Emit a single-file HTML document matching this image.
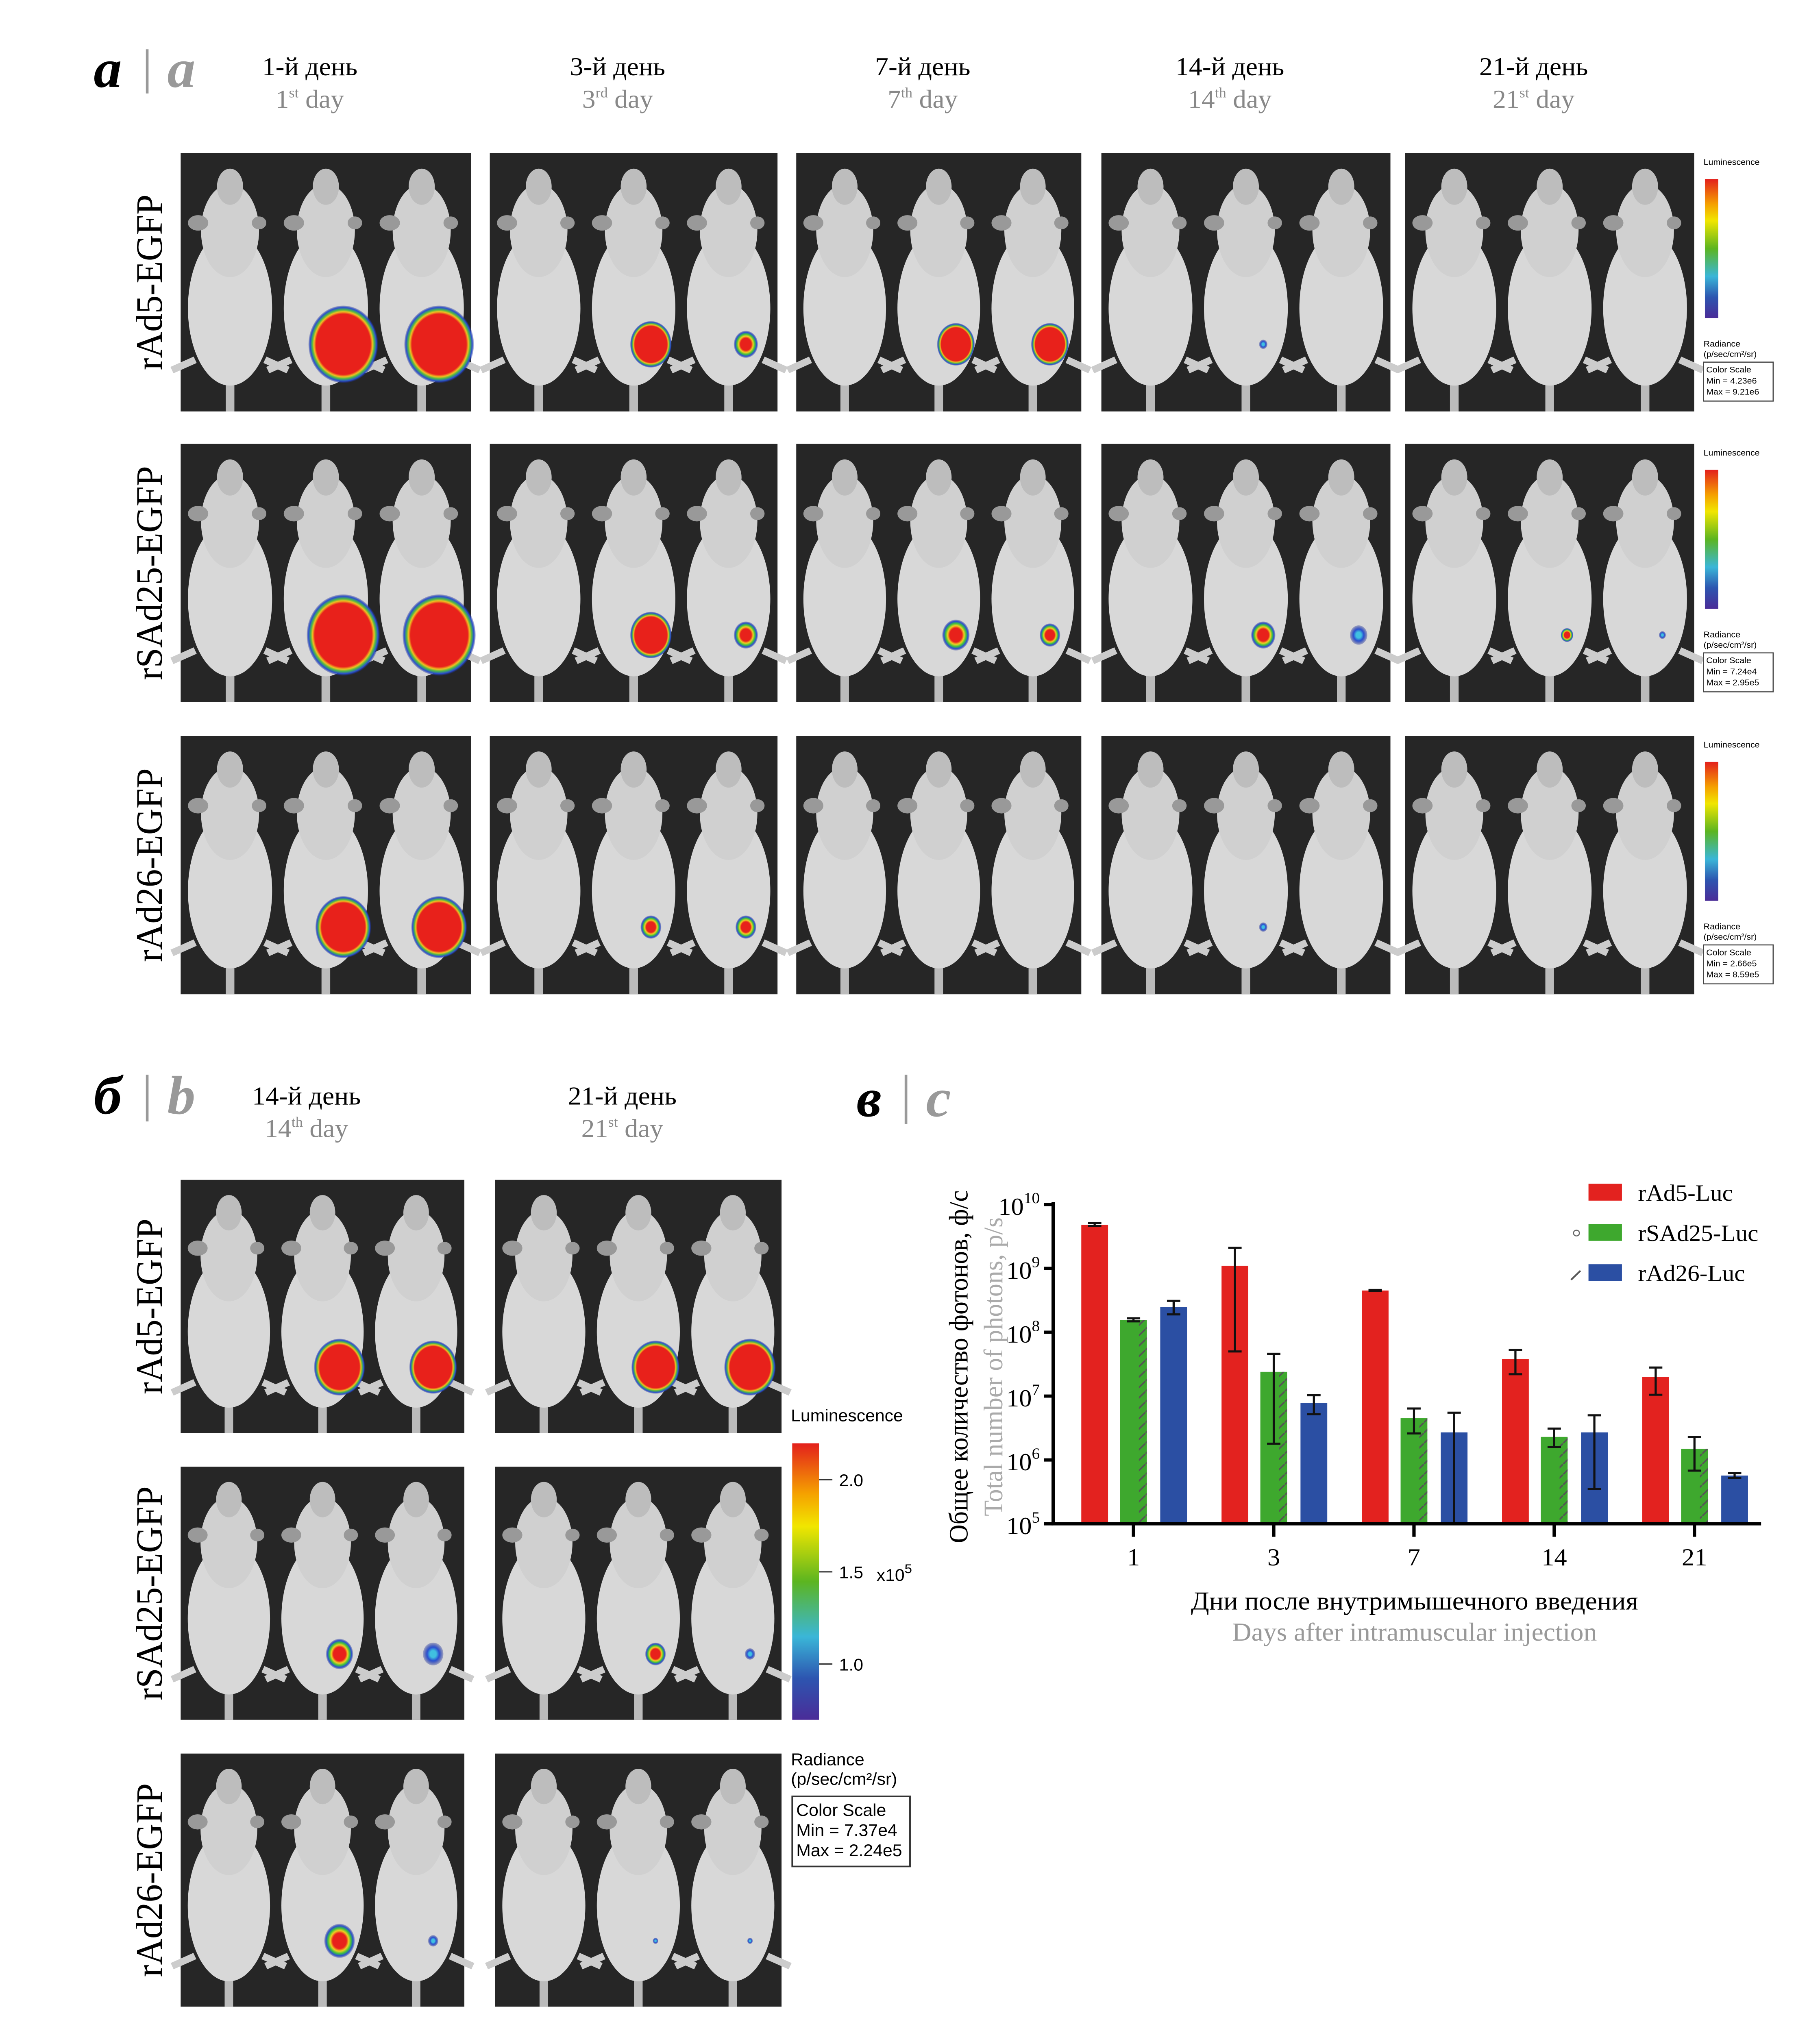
<!DOCTYPE html>
<html><head><meta charset="utf-8">
<style>
html,body{margin:0;padding:0;background:#fff;width:100%;height:100%;overflow:hidden;}
svg{display:block;position:absolute;left:0;top:0;width:100vw;height:100vh;}
text{font-family:"Liberation Serif","Noto Serif CJK SC",serif;}
.sans{font-family:"Liberation Sans","DejaVu Sans",sans-serif;}
</style></head>
<body>
<svg id="fig" viewBox="0 0 1360 1566.3" preserveAspectRatio="none" xmlns="http://www.w3.org/2000/svg">
<defs>
<linearGradient id="cbar" x1="0" y1="0" x2="0" y2="1">
<stop offset="0" stop-color="#e3201c"/><stop offset="0.18" stop-color="#f5a000"/><stop offset="0.3" stop-color="#f1e600"/><stop offset="0.5" stop-color="#5cb520"/><stop offset="0.7" stop-color="#3ab6d8"/><stop offset="0.85" stop-color="#2d55b0"/><stop offset="1" stop-color="#4a2c98"/>
</linearGradient>
<radialGradient id="blob" cx="0.5" cy="0.5" r="0.5">
<stop offset="0.78" stop-color="#e8211b"/><stop offset="0.84" stop-color="#f0c020"/><stop offset="0.89" stop-color="#4cb848"/><stop offset="0.95" stop-color="#2a4fd0"/><stop offset="1" stop-color="#1a2a90" stop-opacity="0.2"/>
</radialGradient>
<radialGradient id="blobsm" cx="0.5" cy="0.5" r="0.5">
<stop offset="0.45" stop-color="#e8211b"/><stop offset="0.6" stop-color="#f0d020"/><stop offset="0.75" stop-color="#3cc040"/><stop offset="0.88" stop-color="#2a4fd0"/><stop offset="1" stop-color="#1a2a90" stop-opacity="0.2"/>
</radialGradient>
<radialGradient id="blobblue" cx="0.5" cy="0.5" r="0.5">
<stop offset="0.3" stop-color="#40c0e0"/><stop offset="0.6" stop-color="#2a4fd0"/><stop offset="1" stop-color="#1a2a90" stop-opacity="0.3"/>
</radialGradient>
<pattern id="hatch" width="8" height="8" patternUnits="userSpaceOnUse"><path d="M0,8 L8,0" stroke="#555" stroke-width="1.2"/></pattern>
</defs>

<g>
<text x="70" y="67" font-size="42" font-weight="bold" font-style="italic">а</text>
<line x1="110" y1="38" x2="110" y2="72" stroke="#999" stroke-width="2"/>
<text x="125" y="67" font-size="42" font-weight="bold" font-style="italic" fill="#999">a</text>
</g>
<g>
<text x="70" y="858" font-size="42" font-weight="bold" font-style="italic">б</text>
<line x1="110" y1="828" x2="110" y2="864" stroke="#999" stroke-width="2"/>
<text x="125" y="858" font-size="42" font-weight="bold" font-style="italic" fill="#999">b</text>
</g>
<g>
<text x="640" y="860" font-size="42" font-weight="bold" font-style="italic">в</text>
<line x1="677" y1="828" x2="677" y2="866" stroke="#999" stroke-width="2"/>
<text x="692" y="860" font-size="42" font-weight="bold" font-style="italic" fill="#999">c</text>
</g>

<g id="mice"></g>
<g id="chart"></g>
</svg>

<script>
const categories = ["1","3","7","14","21"];
const seriesNames = ["rAd5-Luc","rSAd25-Luc","rAd26-Luc"];
const rAd5 = [4.8e9, 1.1e9, 4.5e8, 3.8e7, 2.0e7];
const rSAd25 = [1.55e8, 2.4e7, 4.5e6, 2.3e6, 1.5e6];
const rAd26 = [2.5e8, 7.8e6, 2.7e6, 2.7e6, 5.7e5];
const rAd5Hi = [5.1e9, 2.1e9, 4.6e8, 5.3e7, 2.8e7];
const rAd5Lo = [4.6e9, 5.0e7, 4.4e8, 2.2e7, 1.05e7];
const rSAd25Hi = [1.65e8, 4.6e7, 6.4e6, 3.1e6, 2.3e6];
const rSAd25Lo = [1.48e8, 1.8e6, 2.6e6, 1.6e6, 6.8e5];
const rAd26Hi = [3.1e8, 1.03e7, 5.5e6, 5.0e6, 6.2e5];
const rAd26Lo = [1.9e8, 5.2e6, 1.0e5, 3.5e5, 5.2e5];
const yTickExps = [5,6,7,8,9,10];

const NS = "http://www.w3.org/2000/svg";
function mk(tag, attrs, parent){const e=document.createElementNS(NS,tag);for(const k in attrs)e.setAttribute(k,attrs[k]);if(parent)parent.appendChild(e);return e;}

(function(){
const g = document.getElementById('chart');
const X0=787, X1=1316, Y0=1174, Y1=928;
const yScale = v => Y0 - (Math.log10(v)-5)/5*(Y0-Y1);
const xCenter = i => 847 + i*104.8;
const colors=["#e3221f","#3ea82e","#2b4fa3"];
const vals=[rAd5,rSAd25,rAd26], his=[rAd5Hi,rSAd25Hi,rAd26Hi], los=[rAd5Lo,rSAd25Lo,rAd26Lo];
const bw=20, off=[-29,0,30];
for(let s=0;s<3;s++){
 for(let i=0;i<categories.length;i++){
  const cx=xCenter(i)+off[s], y=yScale(vals[s][i]);
  const r=mk('rect',{x:cx-bw/2,y:y,width:bw,height:Y0-y,fill:colors[s]},g);
  
  
  if(s===1){const h=mk('rect',{x:cx+bw/2-6,y:y,width:6,height:Y0-y,fill:'url(#hatch)'},g);
   
   }
  const yh=yScale(his[s][i]), yl=yScale(los[s][i]);
  const eb=mk('path',{d:`M${cx},${yh}V${yl}M${cx-5},${yh}H${cx+5}M${cx-5},${yl}H${cx+5}`,stroke:'#111','stroke-width':1.6,fill:'none'},g);
  
  
 }
}
const ax=mk('path',{d:`M${X0},${Y1-2}V${Y0}H${X1}`,stroke:'#000','stroke-width':2.5,fill:'none'},g);


yTickExps.forEach(e=>{const y=yScale(Math.pow(10,e));
 mk('line',{x1:X0-7,x2:X0,y1:y,y2:y,stroke:'#000','stroke-width':2.5},g);
 const t=mk('text',{x:X0-10,y:y+8,'font-size':19,'text-anchor':'end'},g);
 
 
 t.innerHTML='10<tspan dy="-9" font-size="12">'+e+'</tspan>';
});
categories.forEach((c,i)=>{const x=xCenter(i);
 mk('line',{x1:x,x2:x,y1:Y0,y2:Y0+10,stroke:'#000','stroke-width':2.5},g);
 const t=mk('text',{x:x,y:Y0+32,'font-size':19,'text-anchor':'middle'},g);
 
 
 t.textContent=c;});
const t1=mk('text',{x:1057,y:1240,'font-size':20,'text-anchor':'middle'},g);


t1.textContent='Дни после внутримышечного введения';
const t2=mk('text',{x:1057,y:1264,'font-size':20,'text-anchor':'middle',fill:'#999'},g);


t2.textContent='Days after intramuscular injection';
const t3=mk('text',{x:0,y:0,'font-size':20,'text-anchor':'middle',transform:'translate(723,1053) rotate(-90)'},g);


t3.textContent='Общее количество фотонов, ф/с';
const t4=mk('text',{x:0,y:0,'font-size':20,'text-anchor':'middle',fill:'#aaa',transform:'translate(749,1053) rotate(-90)'},g);


t4.textContent='Total number of photons, p/s';
seriesNames.forEach((n,s)=>{const y=912+s*31;
 const r=mk('rect',{x:1187,y:y,width:25,height:13,fill:colors[s]},g);
 
 
 const t=mk('text',{x:1224,y:y+13,'font-size':18},g);
 
 
 t.textContent=n;});
mk('circle',{cx:1178,cy:950,r:2.2,fill:'none',stroke:'#666','stroke-width':0.8},g);
mk('line',{x1:1174,y1:986,x2:1181,y2:979,stroke:'#555','stroke-width':1.3},g);
})();

(function(){
const g=document.getElementById('mice');
function panel(x,y,w,h,blobs,name){
 const pg=mk('g',{},g);
 
 
 mk('rect',{x:x,y:y,width:w,height:h,fill:'#262626'},pg);
 for(let m=0;m<3;m++){
  const cx=x+w*(0.17+0.33*m);
  mk('line',{x1:cx,y1:y+h*0.85,x2:cx,y2:y+h,stroke:'#bbb','stroke-width':w*0.03},pg);
  mk('line',{x1:cx-w*0.12,y1:y+h*0.8,x2:cx-w*0.2,y2:y+h*0.84,stroke:'#ccc','stroke-width':w*0.025},pg);
  mk('line',{x1:cx+w*0.12,y1:y+h*0.8,x2:cx+w*0.2,y2:y+h*0.84,stroke:'#ccc','stroke-width':w*0.025},pg);
  mk('ellipse',{cx:cx,cy:y+h*0.6,rx:w*0.145,ry:h*0.3,fill:'#d8d8d8'},pg);
  mk('ellipse',{cx:cx,cy:y+h*0.3,rx:w*0.1,ry:h*0.18,fill:'#d0d0d0'},pg);
  mk('ellipse',{cx:cx,cy:y+h*0.13,rx:w*0.045,ry:h*0.07,fill:'#bdbdbd'},pg);
  mk('ellipse',{cx:cx-w*0.11,cy:y+h*0.27,rx:w*0.035,ry:h*0.03,fill:'#999'},pg);
  mk('ellipse',{cx:cx+w*0.1,cy:y+h*0.27,rx:w*0.025,ry:h*0.025,fill:'#999'},pg);
 }
 blobs.forEach(b=>{const [m,s,type]=b;
  const cx=x+w*(0.17+0.33*m)+w*0.06, cy=y+h*0.74;
  const fill=type==='b'?'url(#blobblue)':(s>0.5?'url(#blob)':'url(#blobsm)');
  mk('ellipse',{cx:cx,cy:cy,rx:w*0.12*s,ry:h*0.15*s,fill:fill},pg);
 });
}
const colsA=[[135,217],[366,215],[595,213],[823,216],[1050,216]];
const rowsA=[[118,199],[342,199],[567,199]];
const blobsA=[
 [[[1,1],[2,1]],[[1,0.6],[2,0.35]],[[1,0.55],[2,0.55]],[[1,0.12,'b']],[]],
 [[[1,1.05],[2,1.05]],[[1,0.6],[2,0.35]],[[1,0.4],[2,0.3]],[[1,0.35],[2,0.25,'b']],[[1,0.18],[2,0.1,'b']]],
 [[[1,0.8],[2,0.8]],[[1,0.3],[2,0.3]],[],[[1,0.12,'b']],[]]
];
const heads=[["1-й день","1","st"],["3-й день","3","rd"],["7-й день","7","th"],["14-й день","14","th"],["21-й день","21","st"]];
const rowNames=["rAd5-EGFP","rSAd25-EGFP","rAd26-EGFP"];
colsA.forEach((c,ci)=>{
 const cx=c[0]+c[1]/2-12;
 const t=mk('text',{x:cx,y:58,'font-size':20,'text-anchor':'middle'},g);
 
 
 t.textContent=heads[ci][0];
 const t2=mk('text',{x:cx,y:83,'font-size':20,'text-anchor':'middle',fill:'#888'},g);
 
 
 t2.innerHTML=heads[ci][1]+'<tspan dy="-8" font-size="11">'+heads[ci][2]+'</tspan><tspan dy="8"> day</tspan>';
 rowsA.forEach((r,ri)=>panel(c[0],r[0],c[1],r[1],blobsA[ri][ci],'image-'+rowNames[ri].toLowerCase()+'-day-'+heads[ci][1]));
});
rowsA.forEach((r,ri)=>{
 const t=mk('text',{x:0,y:0,'font-size':28,'text-anchor':'middle',transform:`translate(121,${r[0]+r[1]/2}) rotate(-90)`},g);
 
 
 t.textContent=rowNames[ri];
 const cg=mk('g',{},g);
 
 
 mk('rect',{x:1274,y:r[0]+20,width:10,height:107,fill:'url(#cbar)'},cg);
 const lab=mk('text',{x:1273,y:r[0]+9,'font-size':6.5,class:'sans'},cg);lab.textContent='Luminescence';
 const rl=mk('text',{x:1273,y:r[0]+149,'font-size':6.5,class:'sans'},cg);rl.textContent='Radiance';
 const rl2=mk('text',{x:1273,y:r[0]+157,'font-size':6.5,class:'sans'},cg);rl2.textContent='(p/sec/cm²/sr)';
 mk('rect',{x:1273,y:r[0]+161,width:52,height:30,fill:'none',stroke:'#444','stroke-width':0.8},cg);
 ['Color Scale','Min = ','Max = '].forEach((s,k)=>{const tt=mk('text',{x:1275,y:r[0]+169+k*8.5,'font-size':6.5,class:'sans'},cg);tt.textContent=s+(k==1?['4.23e6','7.24e4','2.66e5'][ri]:k==2?['9.21e6','2.95e5','8.59e5'][ri]:'');});
});
const colsB=[[135,212],[370,214]];
const rowsB=[[909,195],[1130,195],[1351,195]];
const blobsB=[[[[1,0.75],[2,0.7]],[[1,0.7],[2,0.75]]],[[[1,0.4],[2,0.3,'b']],[[1,0.3],[2,0.15,'b']]],[[[1,0.45],[2,0.15,'b']],[[1,0.08,'b'],[2,0.08,'b']]]];
const headsB=[["14-й день","14","th"],["21-й день","21","st"]];
colsB.forEach((c,ci)=>{
 const cx=c[0]+c[1]/2-12;
 const t=mk('text',{x:cx,y:851,'font-size':20,'text-anchor':'middle'},g);
 
 
 t.textContent=headsB[ci][0];
 const t2=mk('text',{x:cx,y:876,'font-size':20,'text-anchor':'middle',fill:'#888'},g);
 
 
 t2.innerHTML=headsB[ci][1]+'<tspan dy="-8" font-size="11">'+headsB[ci][2]+'</tspan><tspan dy="8"> day</tspan>';
 rowsB.forEach((r,ri)=>panel(c[0],r[0],c[1],r[1],blobsB[ri][ci],'image-b-'+rowNames[ri].toLowerCase()+'-day-'+headsB[ci][1]));
});
rowsB.forEach((r,ri)=>{
 const t=mk('text',{x:0,y:0,'font-size':28,'text-anchor':'middle',transform:`translate(121,${r[0]+r[1]/2}) rotate(-90)`},g);
 
 
 t.textContent=rowNames[ri];
});
const cb=mk('g',{},g);


const lum=mk('text',{x:591,y:1095,'font-size':13,class:'sans'},cb);lum.textContent='Luminescence';
mk('rect',{x:592,y:1112,width:20,height:213,fill:'url(#cbar)'},cb);
[['2.0',1145],['1.5',1216],['1.0',1287]].forEach(p=>{mk('line',{x1:612,x2:622,y1:p[1]-5,y2:p[1]-5,stroke:'#333'},cb);const tt=mk('text',{x:627,y:p[1],'font-size':13,class:'sans'},cb);tt.textContent=p[0];});
const xp=mk('text',{x:655,y:1218,'font-size':13,class:'sans'},cb);xp.innerHTML='x10<tspan dy="-6" font-size="10">5</tspan>';
const rd=mk('text',{x:591,y:1360,'font-size':13,class:'sans'},cb);rd.textContent='Radiance';
const rd2=mk('text',{x:591,y:1375,'font-size':13,class:'sans'},cb);rd2.textContent='(p/sec/cm²/sr)';
mk('rect',{x:592,y:1384,width:88,height:54,fill:'none',stroke:'#333','stroke-width':1.2},cb);
['Color Scale','Min = 7.37e4','Max = 2.24e5'].forEach((s,k)=>{const tt=mk('text',{x:595,y:1399+k*15.5,'font-size':13,class:'sans'},cb);tt.textContent=s;});
})();
</script>
</body></html>
